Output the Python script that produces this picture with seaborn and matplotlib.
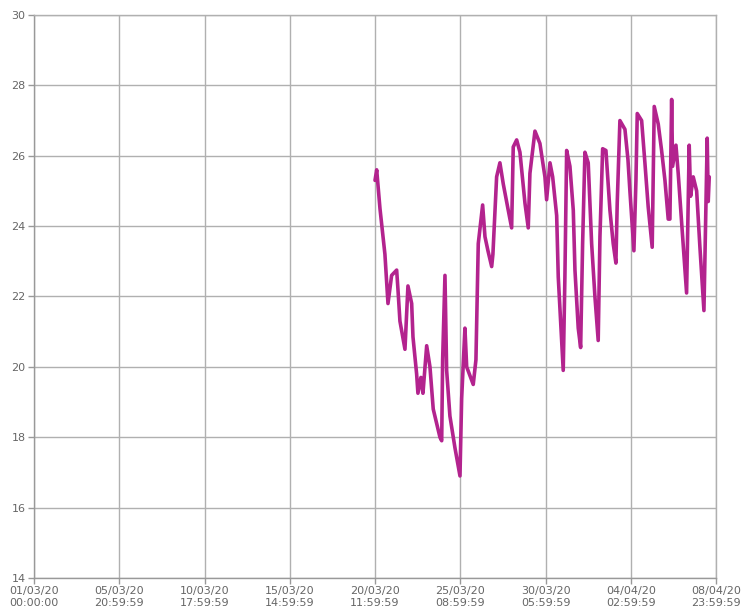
import pandas as pd
import numpy as np
import matplotlib
matplotlib.use("Agg")
import matplotlib.pyplot as plt
import matplotlib.dates as mdates
import seaborn as sns

sns.set_style("whitegrid")
plt.rcParams["font.family"] = ["DejaVu Sans"]

# =========================
# DATA
# =========================
times = [
    "2020-03-20 12:00", "2020-03-20 14:18", "2020-03-20 18:48", "2020-03-21 01:36",
    "2020-03-21 05:48", "2020-03-21 10:48", "2020-03-21 17:42", "2020-03-21 19:30",
    "2020-03-21 22:12", "2020-03-22 05:06", "2020-03-22 09:12", "2020-03-22 14:18",
    "2020-03-22 16:06", "2020-03-22 21:06", "2020-03-22 22:54", "2020-03-23 03:00",
    "2020-03-23 05:48", "2020-03-23 10:54", "2020-03-23 15:24", "2020-03-23 19:54",
    "2020-03-24 05:06", "2020-03-24 07:30", "2020-03-24 08:48", "2020-03-24 12:00",
    "2020-03-24 14:18", "2020-03-24 18:48", "2020-03-25 01:42", "2020-03-25 08:36",
    "2020-03-25 10:54", "2020-03-25 15:24", "2020-03-25 17:48", "2020-03-26 02:48",
    "2020-03-26 06:30", "2020-03-26 09:42", "2020-03-26 15:42", "2020-03-26 18:54",
    "2020-03-26 23:00", "2020-03-27 04:06", "2020-03-27 05:48", "2020-03-27 10:54",
    "2020-03-27 15:24", "2020-03-27 20:00", "2020-03-28 02:24", "2020-03-28 07:30",
    "2020-03-28 09:42", "2020-03-28 14:24", "2020-03-28 18:54", "2020-03-29 01:48",
    "2020-03-29 06:18", "2020-03-29 08:36", "2020-03-29 15:30", "2020-03-29 22:18",
    "2020-03-30 05:12", "2020-03-30 07:30", "2020-03-30 12:06", "2020-03-30 15:48",
    "2020-03-30 21:18", "2020-03-30 23:30", "2020-03-31 06:18", "2020-03-31 08:36",
    "2020-03-31 11:00", "2020-03-31 15:30", "2020-03-31 20:06", "2020-03-31 22:24",
    "2020-04-01 02:54", "2020-04-01 06:12", "2020-04-01 08:54", "2020-04-01 12:06",
    "2020-04-01 16:36", "2020-04-01 21:18", "2020-04-02 01:48", "2020-04-02 06:18",
    "2020-04-02 08:42", "2020-04-02 12:24", "2020-04-02 16:54", "2020-04-02 22:24",
    "2020-04-03 02:54", "2020-04-03 06:36", "2020-04-03 08:24", "2020-04-03 12:06",
    "2020-04-03 19:00", "2020-04-03 23:06", "2020-04-04 01:48", "2020-04-04 07:18",
    "2020-04-04 10:06", "2020-04-04 11:54", "2020-04-04 17:54", "2020-04-04 22:24",
    "2020-04-05 02:54", "2020-04-05 08:24", "2020-04-05 11:12", "2020-04-05 16:42",
    "2020-04-05 21:18", "2020-04-06 01:54", "2020-04-06 06:24", "2020-04-06 08:42",
    "2020-04-06 11:06", "2020-04-06 12:24", "2020-04-06 17:00", "2020-04-06 20:06",
    "2020-04-07 00:48", "2020-04-07 07:36", "2020-04-07 11:12", "2020-04-07 13:06",
    "2020-04-07 16:42", "2020-04-07 21:24", "2020-04-08 01:54", "2020-04-08 07:24",
    "2020-04-08 11:54", "2020-04-08 13:18", "2020-04-08 14:42",
]
temps = [
    25.3, 25.6, 24.5, 23.2,
    21.8, 22.6, 22.75, 22.2,
    21.3, 20.5, 22.3, 21.8,
    20.85, 19.8, 19.25, 19.7,
    19.25, 20.6, 20.0, 18.8,
    18.0, 17.9, 20.2, 22.6,
    19.9, 18.6, 17.7, 16.9,
    19.1, 21.1, 20.0, 19.5,
    20.2, 23.5, 24.6, 23.7,
    23.3, 22.85, 23.2, 25.4,
    25.8, 25.2, 24.5, 23.95,
    26.25, 26.45, 26.1, 24.65,
    23.95, 25.5, 26.7, 26.35,
    25.4, 24.75, 25.8, 25.4,
    24.3, 22.55, 19.9, 22.55,
    26.15, 25.7, 24.45, 22.75,
    21.1, 20.55, 23.5, 26.1,
    25.8, 23.5, 22.0, 20.75,
    23.7, 26.2, 26.15, 24.45,
    23.5, 22.95, 24.65, 27.0,
    26.75, 25.9, 25.0, 23.3,
    25.3, 27.2, 27.0, 25.8,
    24.55, 23.4, 27.4, 26.9,
    26.15, 25.3, 24.2, 24.2,
    27.6, 25.7, 26.3, 25.5,
    24.1, 22.1, 26.3, 24.85,
    25.4, 25.0, 23.4, 21.6,
    26.5, 24.7, 25.4,
]

x_start = "2020-03-01 00:00:00"
x_end = "2020-04-08 23:59:59"
y_ticks = [14, 16, 18, 20, 22, 24, 26, 28, 30]

df = pd.DataFrame({"time": pd.to_datetime(times), "temp": temps})

# =========================
# PLOT
# =========================
fig = plt.figure(figsize=(7.44, 6.10), dpi=100)
ax = fig.add_axes([0.0457, 0.0525, 0.9167, 0.9229])

sns.lineplot(data=df, x="time", y="temp", ax=ax, color="#b3238e", linewidth=2.6)

t0 = pd.Timestamp(x_start)
t1 = pd.Timestamp(x_end) + pd.Timedelta(seconds=1)
x_ticks = [t0 + (t1 - t0) * i / 8 - (pd.Timedelta(seconds=1) if i > 0 else pd.Timedelta(0))
           for i in range(9)]
ax.set_xlim(t0, t1)
ax.set_xticks(x_ticks)
ax.set_xticklabels([t.strftime("%d/%m/%y\n%H:%M:%S") for t in x_ticks])
ax.set_ylim(14, 30)
ax.set_yticks(y_ticks)

ax.set_xlabel("")
ax.set_ylabel("")
ax.grid(True, color="#b0b0b0", linewidth=1.0)
for s in ax.spines.values():
    s.set_color("#b0b0b0")
    s.set_linewidth(1.0)
ax.spines["left"].set_color("#999999")
ax.spines["bottom"].set_color("#999999")
ax.tick_params(axis="both", colors="#999999", labelcolor="#666666",
               labelsize=8, length=4, width=1, direction="out")
ax.tick_params(axis="x", pad=2)
ax.tick_params(axis="y", pad=2)
ax.tick_params(top=False, right=False)
ax.xaxis.set_ticks_position("bottom")
ax.yaxis.set_ticks_position("left")

fig.savefig("out.png", dpi=100)
